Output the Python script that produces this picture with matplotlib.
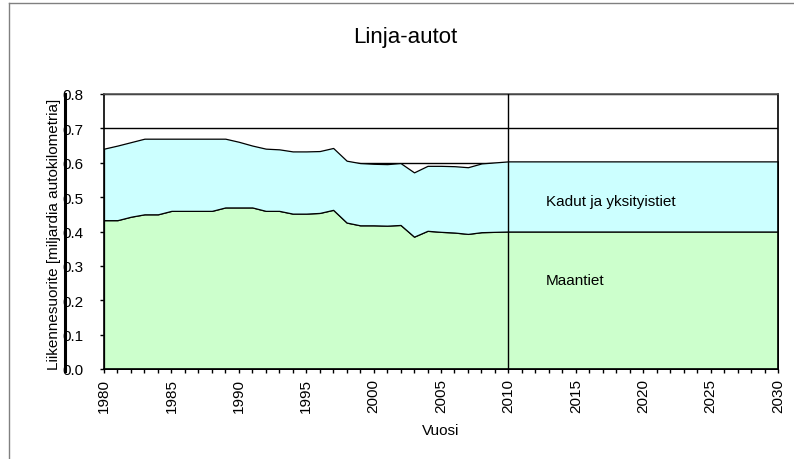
import matplotlib
matplotlib.use("Agg")
import matplotlib.pyplot as plt
from matplotlib.lines import Line2D
from matplotlib.ticker import MultipleLocator

plt.rcParams['font.family'] = ['Liberation Sans', 'DejaVu Sans']

# vuodet ja sarjat (miljardia autokilometria)
vuodet = list(range(1980, 2011)) + [2030]
maantiet = [0.433, 0.433, 0.443, 0.450, 0.450, 0.460, 0.460, 0.460, 0.460, 0.470,
            0.470, 0.470, 0.460, 0.460, 0.452, 0.452, 0.454, 0.463, 0.426, 0.418,
            0.418, 0.417, 0.419, 0.385, 0.402, 0.399, 0.397, 0.393, 0.398, 0.399,
            0.400, 0.400]
kadut = [0.208, 0.217, 0.217, 0.220, 0.220, 0.210, 0.210, 0.210, 0.210, 0.200,
         0.191, 0.180, 0.181, 0.179, 0.181, 0.181, 0.180, 0.180, 0.180, 0.181,
         0.179, 0.179, 0.180, 0.187, 0.189, 0.192, 0.193, 0.194, 0.200, 0.202,
         0.204, 0.204]
sarjat = ["Maantiet", "Kadut ja yksityistiet"]
varit = ["#ccffcc", "#ccffff"]
y_ticks = [0.0, 0.1, 0.2, 0.3, 0.4, 0.5, 0.6, 0.7, 0.8]
x_ticks = [1980, 1985, 1990, 1995, 2000, 2005, 2010, 2015, 2020, 2025, 2030]

W, H = 794, 460
fig = plt.figure(figsize=(W / 100, H / 100), dpi=100)
ax = fig.add_axes([104 / W, 1 - 370 / H, 674 / W, 275 / H])

ax.stackplot(vuodet, maantiet, kadut, colors=varit, edgecolor="black",
             linewidth=0.9, zorder=2)
ax.axvline(2010, color="black", linewidth=1, zorder=3)

ax.set_xlim(1980, 2030)
ax.set_ylim(0, 0.8)
ax.set_yticks(y_ticks)
ax.set_yticklabels([f"{v:.1f}" for v in y_ticks], fontsize=11)
ax.set_xticks(x_ticks)
ax.set_xticklabels([str(v) for v in x_ticks], rotation=90, fontsize=11)
ax.xaxis.set_minor_locator(MultipleLocator(1))
ax.tick_params(axis="x", which="both", direction="out", length=3, width=1)
ax.tick_params(axis="y", direction="out", length=3, width=1, pad=12)
ax.grid(axis="y", color="black", linewidth=1, zorder=0)
ax.set_axisbelow(True)
for s in ax.spines.values():
    s.set_color("black")
    s.set_linewidth(1.2)
ax.spines["top"].set_color("#555555")

ax.text(2012.8, 0.488, sarjat[1], fontsize=11, va="center", ha="left", zorder=4)
ax.text(2012.8, 0.26, sarjat[0], fontsize=11, va="center", ha="left", zorder=4)

ax.set_xlabel("Vuosi", fontsize=11, labelpad=8)

fig.text(405 / W, 1 - 37 / H, "Linja-autot", fontsize=16, ha="center", va="center")
fig.text(54 / W, 1 - 234 / H, "Liikennesuorite [miljardia autokilometria]",
         fontsize=11, rotation=90, ha="center", va="center")

# erillinen pystyviiva y-akselin vasemmalla puolella
fig.add_artist(Line2D([65 / W, 65 / W], [1 - 95 / H, 1 - 372 / H],
                      color="black", linewidth=2.2))
# kehys
fig.add_artist(Line2D([9 / W, 9 / W], [0, 1 - 4 / H], color="#808080", linewidth=1))
fig.add_artist(Line2D([9 / W, 1], [1 - 4 / H, 1 - 4 / H], color="#808080", linewidth=1))

fig.savefig("out.png", dpi=100)
